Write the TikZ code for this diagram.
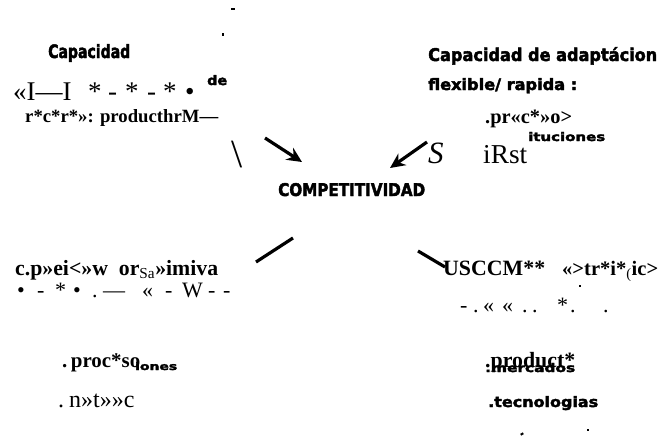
\documentclass[tikz,border=0pt]{standalone}
\usepackage{fontspec}
\usepackage{graphicx}
\setmainfont{Liberation Serif}
\newfontfamily\blobfont[BoldFeatures={FakeBold=2.5}]{DejaVu Sans}
\usetikzlibrary{arrows.meta}
\newcommand\gl[2]{\makebox[#1pt][l]{#2}}
\newcommand\blobtxt[3]{\resizebox{#1pt}{#2pt}{\blobfont\bfseries #3}}
\tikzset{
  txt/.style={inner sep=0pt, anchor=base west},
  bigarrow/.style={line width=3.2pt, -{Stealth[length=15pt,width=14pt]}},
  thickline/.style={line width=3.2pt},
  speck/.style={fill=black, inner sep=0pt}
}
\begin{document}
\begin{tikzpicture}[x=1pt,y=-1pt]
\useasboundingbox (0,0) rectangle (670,439);
\fill[white] (0,0) rectangle (670,439);

% top-left block
\node[txt] (cap1) at (48,58) {\blobtxt{82}{14}{Capacidad}};
\node[txt] (l1) at (13,100) {\fontsize{27}{30}\selectfont\gl{75}{«I—I}\gl{20}{*}\gl{17}{-}\gl{22}{*}\gl{16}{-}\gl{22}{*}•};
\node[txt] (de) at (207,85) {\blobtxt{20}{10}{de}};
\node[txt] (l2) at (25,122) {\resizebox{193pt}{!}{\fontsize{19}{22}\selectfont\bfseries r*c*r*»: producthrM—}};

% top-right block
\node[txt] (cap2) at (428,61) {\blobtxt{229}{14}{Capacidad de adaptácion}};
\node[txt] (flex) at (428,90) {\blobtxt{149}{12}{flexible/ rapida :}};
\node[txt] (l3) at (485,123) {\resizebox{87pt}{!}{\fontsize{18}{21}\selectfont\bfseries .pr«c*»o>}};
\node[txt] (itu) at (528,141) {\blobtxt{77}{9}{ituciones}};

% middle
\node[txt] (bs) at (231,167) {\fontsize{40}{44}\selectfont\textbackslash};
\node[txt] (S) at (428,163) {\fontsize{31}{34}\selectfont\itshape S};
\node[txt] (iRst) at (483,163) {\resizebox{44pt}{!}{\fontsize{30}{33}\selectfont iRst}};
\node[txt] (comp) at (278,196) {\blobtxt{147}{13}{COMPETITIVIDAD}};

\coordinate (a1s) at (265,138);
\coordinate (a1e) at (302,162);
\coordinate (a2s) at (427,142);
\coordinate (a2e) at (390,168);
\draw[bigarrow] (a1s) -- (a1e);
\draw[bigarrow] (a2s) -- (a2e);

\coordinate (b1s) at (256,262);
\coordinate (b1e) at (293,238);
\coordinate (b2s) at (418,251);
\coordinate (b2e) at (445,267);
\draw[thickline] (b1s) -- (b1e);
\draw[thickline] (b2s) -- (b2e);

% lower-left block
\node[txt] (l4) at (15,275) {\resizebox{203pt}{!}{\fontsize{20}{23}\selectfont\bfseries c.p»ei<»w\hspace{10pt}or\textsubscript{\mdseries Sa}»imiva}};
\node[txt] (l5) at (17,297) {\fontsize{22}{25}\selectfont\gl{20}{•}\gl{18}{-}\gl{18}{*}\gl{19}{•}\gl{11}{.}\gl{39}{—}\gl{23}{«}\gl{17}{-}\gl{26}{W}\gl{15}{-}-};

% lower-right block
\node[txt] (l6) at (443,275) {\resizebox{102pt}{!}{\fontsize{20}{23}\selectfont\bfseries USCCM**}};
\node[txt] (l6b) at (562,275) {\resizebox{96pt}{!}{\fontsize{20}{23}\selectfont\bfseries «>tr*i*\textsubscript{\mdseries(}ic>}};
\node[speck, minimum width=1.5pt, minimum height=1.5pt] (dot1) at (580,286) {};
\node[txt] (l7) at (460,312) {\fontsize{22}{25}\selectfont\gl{13}{-}\gl{10}{.}\gl{19}{«}\gl{20}{«}\gl{10}{.}\gl{25}{.}\gl{13}{*}\gl{33}{.}.};

% bottom-left
\node[txt] (l8) at (62,367) {\resizebox{78pt}{!}{\fontsize{18}{21}\selectfont\bfseries .\hspace{3pt}proc*so}};
\node[txt] (l8b) at (135,370) {\blobtxt{42}{8}{iones}};
\node[txt] (l9) at (58,407) {\fontsize{24}{27}\selectfont .\hspace{5pt}n»t»»c};

% bottom-right
\node[txt] (l10) at (485,367) {\resizebox{90pt}{!}{\fontsize{18}{21}\selectfont\bfseries .product*}};
\node[txt] (l10b) at (485,372) {\blobtxt{90}{9}{.mercados}};
\node[txt] (l11) at (488,407) {\blobtxt{110}{11}{.tecnologias}};

% stray marks
\node[speck, minimum width=4pt, minimum height=2.5pt] (m1) at (233,9) {};
\node[speck, minimum width=2pt, minimum height=3pt] (m2) at (223,34) {};
\node[speck, minimum width=3pt, minimum height=2pt, rotate=30] (m3) at (522,434) {};
\node[speck, minimum width=1.5pt, minimum height=2pt] (m4) at (588,430) {};
\end{tikzpicture}
\end{document}
